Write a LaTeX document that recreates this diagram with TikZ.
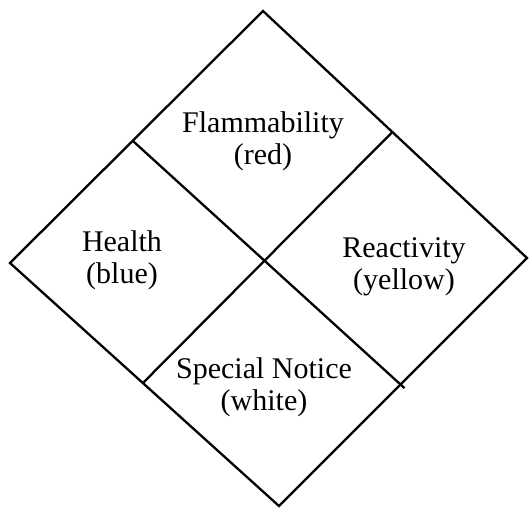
\documentclass[tikz,border=0pt]{standalone}
\usepackage{fontspec}
\setmainfont{Liberation Serif}
\usetikzlibrary{calc}
\begin{document}
\begin{tikzpicture}[x=1pt,y=-1pt,
  edge/.style={line width=2.3pt,line join=miter,line cap=butt},
  lbl/.style={align=center,font=\fontsize{30}{32}\selectfont,inner sep=0pt}]
\useasboundingbox (0,0) rectangle (529,508);
\coordinate (T) at (263,11);
\coordinate (R) at (527,258);
\coordinate (B) at (279,506);
\coordinate (L) at (10,263);
\coordinate (TL) at ($(L)!0.485!(T)$);
\coordinate (TR) at ($(T)!0.49!(R)$);
\coordinate (BL) at ($(L)!0.494!(B)$);
\coordinate (BR) at ($(B)!0.49!(R)$);
\coordinate (BRx) at ($(TL)!1.015!(BR)$);
\draw[edge] (T) -- (R) -- (B) -- (L) -- cycle;
\draw[edge] (TL) -- (BRx);
\draw[edge] (TR) -- (BL);
\node[lbl] (flam) at (263,141) {Flammability\\(red)};
\node[lbl] (health) at (122,260) {Health\\(blue)};
\node[lbl] (react) at (404,267) {Reactivity\\(yellow)};
\node[lbl] (spec) at (264,387) {Special Notice\\(white)};
\end{tikzpicture}
\end{document}
